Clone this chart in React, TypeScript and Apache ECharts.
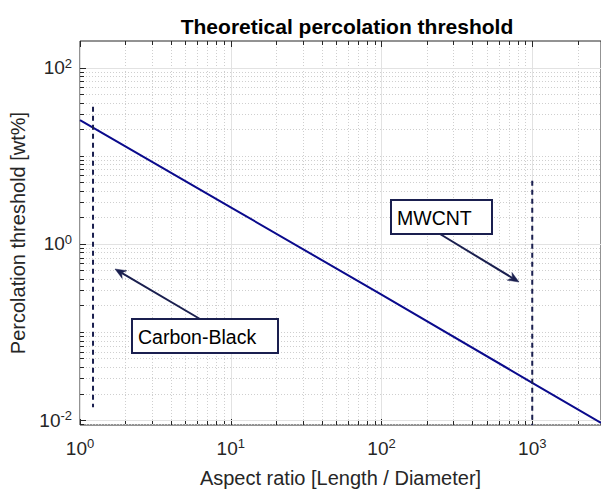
import React, { useEffect, useRef } from 'react';
import * as echarts from 'echarts';

// ---- data ----
const X_MIN = 1;
const X_MAX = 2858;
const Y_MIN = 0.00879;
const Y_MAX = 201;

const thresholdX = [1, 10, 100, 1000, 2858];
const thresholdY = [25.4, 2.6, 0.265, 0.0265, 0.0093];

const carbonBlackX = [1.22, 1.22];
const carbonBlackY = [36, 0.014];

const mwcntX = [1000, 1000];
const mwcntY = [5.2, 0.00879];

const xMajorTicks = [1, 10, 100, 1000];
const xMinorTicks = [2, 3, 4, 5, 6, 7, 8, 9, 20, 30, 40, 50, 60, 70, 80, 90, 200, 300, 400, 500, 600, 700, 800, 900, 2000];
const yMajorTicks = [0.01, 1, 100];
const yMinorTicks = [
  0.009, 0.02, 0.03, 0.04, 0.05, 0.06, 0.07, 0.08, 0.09, 0.1,
  0.2, 0.3, 0.4, 0.5, 0.6, 0.7, 0.8, 0.9,
  2, 3, 4, 5, 6, 7, 8, 9, 10,
  20, 30, 40, 50, 60, 70, 80, 90,
];

const TITLE = 'Theoretical percolation threshold';
const X_NAME = 'Aspect ratio [Length / Diameter]';
const Y_NAME = 'Percolation threshold [wt%]';

// ---- styles ----
const FONT = '"Liberation Sans", Arial, Helvetica, sans-serif';
const AXIS = '#262626';
const GRID_MAJOR = '#e2e2e2';
const GRID_MINOR = '#cfcfcf';
const LINE = '#0a0a8c';
const DARK = '#1a1f4f';

function zip(a: number[], b: number[]) {
  return a.map((v, i) => [v, b[i]]);
}

function fmtPow(value: number) {
  const e = Math.log10(value);
  const r = Math.round(e);
  if (Math.abs(e - r) > 1e-6) return '';
  return `{b|10}{e|${r}}`;
}

function fmtPowEven(value: number) {
  const e = Math.log10(value);
  const r = Math.round(e);
  if (Math.abs(e - r) > 1e-6 || r % 2 !== 0) return '';
  return `{b|10}{e|${r}}`;
}

const rich = {
  b: { fontSize: 19, fontFamily: FONT, color: AXIS, lineHeight: 22 },
  e: { fontSize: 13, fontFamily: FONT, color: AXIS, verticalAlign: 'top', lineHeight: 14 },
};

function arrow(x1: number, y1: number, x2: number, y2: number) {
  const dx = x2 - x1, dy = y2 - y1;
  const len = Math.hypot(dx, dy);
  const ux = dx / len, uy = dy / len;
  const nx = -uy, ny = ux;
  const L = 11, W = 4.5;
  const bx = x2 - ux * L, by = y2 - uy * L;
  const mx = x2 - ux * L * 0.7, my = y2 - uy * L * 0.7;
  return [
    { type: 'line', z: 100, shape: { x1, y1, x2: mx, y2: my }, style: { stroke: DARK, lineWidth: 2 } },
    {
      type: 'polygon', z: 100,
      shape: { points: [[x2, y2], [bx + nx * W, by + ny * W], [mx, my], [bx - nx * W, by - ny * W]] },
      style: { fill: DARK, stroke: DARK, lineWidth: 0.5 },
    },
  ];
}

function textBox(x: number, y: number, w: number, h: number, text: string) {
  return [
    { type: 'rect', shape: { x, y, width: w, height: h }, style: { fill: '#ffffff', stroke: DARK, lineWidth: 2 }, z: 100 },
    {
      type: 'text', x: x + 6, y: y + h / 2 + 1, z: 101,
      style: { text, fill: '#000000', font: `19.5px ${FONT}`, textVerticalAlign: 'middle', textAlign: 'left' },
    },
  ];
}

export default function App() {
  const ref = useRef<HTMLDivElement>(null);
  useEffect(() => {
    if (!ref.current) return;
    const chart = echarts.init(ref.current, null, { renderer: 'svg' });

    const renderXGrid = (params: any, api: any) => {
      const cs = params.coordSys;
      const major = api.value(2) === 1;
      const px = Math.round(api.coord([api.value(0), Y_MIN])[0]) + 0.5;
      const top = cs.y, bottom = cs.y + cs.height;
      const tl = major ? 6 : 4;
      return {
        type: 'group',
        children: [
          { type: 'line', shape: { x1: px, y1: top, x2: px, y2: bottom }, style: { stroke: major ? GRID_MAJOR : GRID_MINOR, lineWidth: 1, lineDash: major ? null : [1, 2] } },
          { type: 'line', shape: { x1: px, y1: bottom, x2: px, y2: bottom - tl }, style: { stroke: AXIS, lineWidth: 1 } },
          { type: 'line', shape: { x1: px, y1: top, x2: px, y2: top + tl }, style: { stroke: AXIS, lineWidth: 1 } },
        ],
      };
    };
    const renderYGrid = (params: any, api: any) => {
      const cs = params.coordSys;
      const major = api.value(2) === 1;
      const py = Math.round(api.coord([X_MIN, api.value(1)])[1]) + 0.5;
      const left = cs.x, right = cs.x + cs.width;
      const tl = major ? 6 : 4;
      return {
        type: 'group',
        children: [
          { type: 'line', shape: { x1: left, y1: py, x2: right, y2: py }, style: { stroke: major ? GRID_MAJOR : GRID_MINOR, lineWidth: 1, lineDash: major ? null : [1, 2] } },
          { type: 'line', shape: { x1: left, y1: py, x2: left + tl, y2: py }, style: { stroke: AXIS, lineWidth: 1 } },
        ],
      };
    };

    const xGridData = [
      ...xMajorTicks.map((v) => [v, Y_MIN, 1]),
      ...xMinorTicks.map((v) => [v, Y_MIN, 0]),
    ];
    const yGridData = [
      ...yMajorTicks.map((v) => [X_MIN, v, 1]),
      ...yMinorTicks.map((v) => [X_MIN, v, 0]),
    ];

    chart.setOption({
      animation: false,
      backgroundColor: '#ffffff',
      title: {
        text: TITLE,
        left: 342,
        top: 11,
        textAlign: 'center',
        textStyle: { fontFamily: FONT, fontSize: 21, fontWeight: 'bold', color: '#000000' },
      },
      grid: {
        left: 80, right: -2, top: 41, bottom: 65,
        show: true, borderColor: AXIS, borderWidth: 1, backgroundColor: 'transparent',
      },
      xAxis: {
        type: 'log', logBase: 10, min: X_MIN, max: X_MAX,
        name: X_NAME, nameLocation: 'middle', nameGap: 43,
        nameTextStyle: { fontFamily: FONT, fontSize: 20, color: AXIS },
        axisLine: { show: false }, axisTick: { show: false }, splitLine: { show: false },
        axisLabel: { formatter: fmtPow, rich, margin: 12, showMaxLabel: false },
      },
      yAxis: {
        type: 'log', logBase: 10, min: Y_MIN, max: Y_MAX,
        name: Y_NAME, nameLocation: 'middle', nameGap: 47,
        nameTextStyle: { fontFamily: FONT, fontSize: 20, color: AXIS },
        axisLine: { show: false }, axisTick: { show: false }, splitLine: { show: false },
        axisLabel: { formatter: fmtPowEven, rich, margin: 8 },
      },
      graphic: [
        ...textBox(132, 319, 146, 34, 'Carbon-Black'),
        ...arrow(200, 319, 115, 269),
        ...textBox(391, 200, 101, 34, 'MWCNT'),
        ...arrow(440, 234, 519, 282),
      ],
      series: [
        { type: 'custom', renderItem: renderXGrid, data: xGridData, silent: true, z: 1, clip: false },
        { type: 'custom', renderItem: renderYGrid, data: yGridData, silent: true, z: 1, clip: false },
        {
          type: 'line', data: zip(thresholdX, thresholdY), showSymbol: false, symbol: 'none',
          lineStyle: { color: LINE, width: 2 }, z: 5,
        },
        {
          type: 'line', data: zip(carbonBlackX, carbonBlackY), showSymbol: false, symbol: 'none',
          lineStyle: { color: DARK, width: 2, type: [5, 4] }, z: 5,
        },
        {
          type: 'line', data: zip(mwcntX, mwcntY), showSymbol: false, symbol: 'none',
          lineStyle: { color: DARK, width: 2, type: [5, 4] }, z: 5,
        },
      ],
    });
    return () => chart.dispose();
  }, []);
  return <div ref={ref} style={{ position: 'fixed', left: 0, top: 0, width: 601, height: 493 }} />;
}
